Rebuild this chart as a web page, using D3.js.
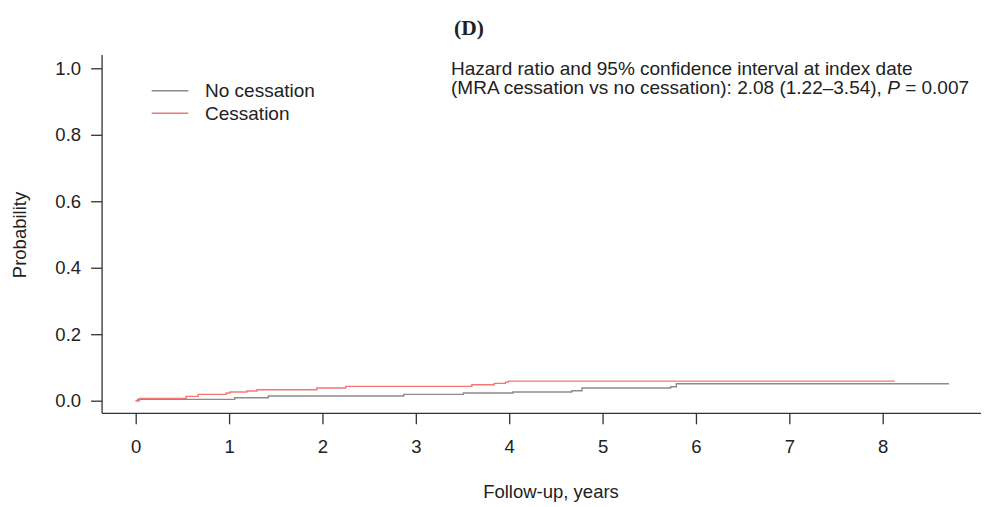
<!DOCTYPE html>
<html>
<head>
<meta charset="utf-8">
<script src="https://cdn.jsdelivr.net/npm/d3@7"></script>
<style>
  html, body { margin: 0; padding: 0; background: #fff; }
  svg { display: block; }
  text { font-family: "Liberation Sans", Arial, sans-serif; fill: #222; }
</style>
</head>
<body>
<svg id="chart" width="990" height="507"></svg>
<script>
// ---- data ----
const xTicks = [0, 1, 2, 3, 4, 5, 6, 7, 8];
const yTicks = [0, 0.2, 0.4, 0.6, 0.8, 1.0];
const seriesNames = ["No cessation", "Cessation"];
const noCessTimes = [0, 0.02, 1.06, 1.42, 2.87, 3.51, 4.04, 4.67, 4.78, 5.73, 5.79, 8.71];
const noCessProb  = [0, 0.004, 0.009, 0.014, 0.019, 0.023, 0.026, 0.030, 0.038, 0.042, 0.051, 0.051];
const cessTimes = [0, 0.04, 0.54, 0.67, 0.97, 1.01, 1.19, 1.30, 1.94, 2.25, 3.60, 3.84, 3.96, 3.99, 8.13];
const cessProb  = [0, 0.007, 0.013, 0.019, 0.023, 0.026, 0.029, 0.033, 0.038, 0.043, 0.048, 0.052, 0.056, 0.059, 0.059];
const titleText = "(D)";
const hrLine1 = "Hazard ratio and 95% confidence interval at index date";
const hrLine2a = "(MRA cessation vs no cessation): 2.08 (1.22\u20133.54), ";
const hrLine2b = "P";
const hrLine2c = " = 0.007";
const xLabel = "Follow-up, years";
const yLabel = "Probability";

// ---- layout ----
const svg = d3.select("#chart");
const x = d3.scaleLinear().domain([0, 8]).range([135.7, 882.7]);
const y = d3.scaleLinear().domain([0, 1]).range([400.7, 68.3]);
const axisColor = "#333";
const colors = ["#8c8c8c", "#f27878"];

// axis lines (L-shaped box)
svg.append("line")
  .attr("x1", x(-0.36)).attr("x2", x(-0.36))
  .attr("y1", y(1.04)).attr("y2", y(-0.038))
  .attr("stroke", axisColor).attr("stroke-width", 1.3);
svg.append("line")
  .attr("x1", x(-0.36)).attr("x2", 981)
  .attr("y1", y(-0.038)).attr("y2", y(-0.038))
  .attr("stroke", axisColor).attr("stroke-width", 1.3);

// y axis
const yAxis = d3.axisLeft(y).tickValues(yTicks).tickFormat(d3.format(".1f"))
  .tickSize(11).tickPadding(10);
const gy = svg.append("g").attr("transform", `translate(${x(-0.36)},0)`).call(yAxis);
gy.select(".domain").remove();
gy.selectAll(".tick line").attr("stroke", axisColor).attr("stroke-width", 1.3);
gy.selectAll(".tick text").attr("font-size", 18.5).attr("fill", "#222")
  .attr("font-family", "Liberation Sans, Arial, sans-serif");

// x axis
const xAxis = d3.axisBottom(x).tickValues(xTicks).tickFormat(d3.format("d"))
  .tickSize(11).tickPadding(16);
const gx = svg.append("g").attr("transform", `translate(0,${y(-0.038)})`).call(xAxis);
gx.select(".domain").remove();
gx.selectAll(".tick line").attr("stroke", axisColor).attr("stroke-width", 1.3);
gx.selectAll(".tick text").attr("font-size", 18.5).attr("fill", "#222")
  .attr("font-family", "Liberation Sans, Arial, sans-serif");

// curves
const line = d3.line().x(d => x(d[0])).y(d => y(d[1])).curve(d3.curveStepAfter);
const series = [
  d3.zip(noCessTimes, noCessProb),
  d3.zip(cessTimes, cessProb)
];
series.forEach((s, i) => {
  svg.append("path").datum(s)
    .attr("d", line)
    .attr("fill", "none")
    .attr("stroke", colors[i])
    .attr("stroke-width", 1.4);
});

// legend
const legendY = [90.7, 113.3];
seriesNames.forEach((n, i) => {
  svg.append("line").attr("x1", 151.7).attr("x2", 188.3)
    .attr("y1", legendY[i]).attr("y2", legendY[i])
    .attr("stroke", colors[i]).attr("stroke-width", 1.4);
  svg.append("text").attr("x", 205).attr("y", legendY[i] + 6.3)
    .attr("font-size", 19).text(n);
});

// title
svg.append("text").attr("x", 469).attr("y", 35)
  .attr("text-anchor", "middle")
  .style("font-family", "\"Liberation Serif\", \"Times New Roman\", serif")
  .attr("font-size", 21.5).attr("font-weight", "bold").text(titleText);

// hazard ratio annotation
svg.append("text").attr("x", 451).attr("y", 74.5).attr("font-size", 19)
  .text(hrLine1);
const t2 = svg.append("text").attr("x", 451).attr("y", 94).attr("font-size", 19);
t2.append("tspan").text(hrLine2a);
t2.append("tspan").attr("font-style", "italic").text(hrLine2b);
t2.append("tspan").text(hrLine2c);

// axis titles
svg.append("text").attr("x", 551).attr("y", 498).attr("text-anchor", "middle")
  .attr("font-size", 18.5).text(xLabel);
svg.append("text").attr("transform", "translate(26,235) rotate(-90)")
  .attr("text-anchor", "middle").attr("font-size", 18.5).text(yLabel);
</script>
</body>
</html>
